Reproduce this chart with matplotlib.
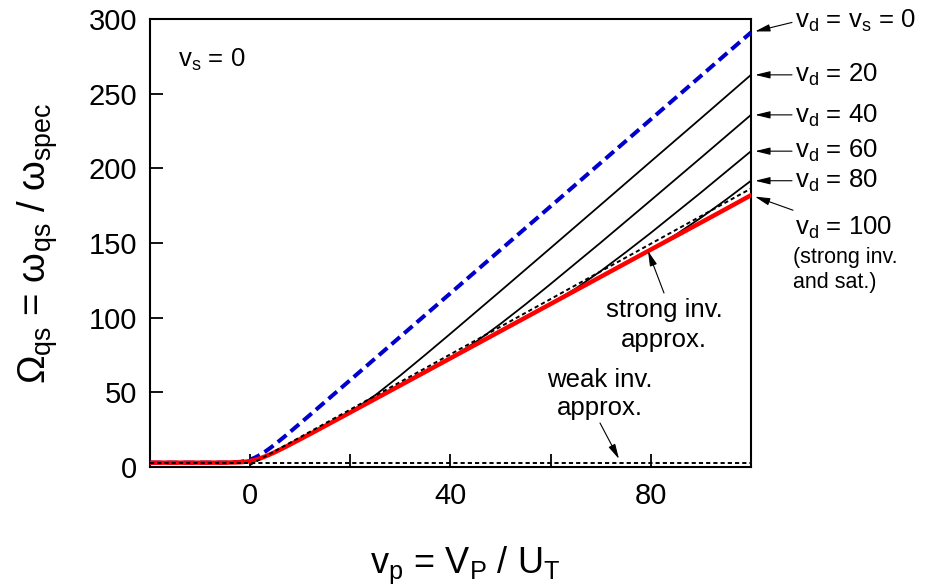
import matplotlib
matplotlib.use('Agg')
import matplotlib.pyplot as plt

plt.rcParams['font.family'] = ['Liberation Sans', 'DejaVu Sans']
plt.rcParams['mathtext.fontset'] = 'custom'
plt.rcParams['mathtext.rm'] = 'Liberation Sans'
plt.rcParams['mathtext.it'] = 'Liberation Sans'
plt.rcParams['mathtext.bf'] = 'Liberation Sans:bold'
plt.rcParams['mathtext.default'] = 'regular'
plt.rcParams['lines.scale_dashes'] = False

# ---------------- data ----------------
vp_main = [-20, -10, -5, -2, -1, 0, 1, 2, 3, 4, 5, 7, 10, 12, 15, 20, 30, 40,
           50, 60, 70, 80, 90, 95, 100]
omega_vd0 = [2.91, 2.91, 2.95, 3.43, 4.01, 4.97, 6.37, 8.18, 10.32, 12.72, 15.29,
             20.75, 29.29, 35.05, 43.75, 58.27, 87.35, 116.4, 145.5, 174.6, 203.7,
             232.8, 261.9, 276.5, 291.0]
omega_vd100 = [2.91, 2.91, 2.93, 3.18, 3.48, 4.00, 4.77, 5.81, 7.06, 8.48, 10.03,
               13.35, 18.6, 22.16, 27.55, 36.58, 54.7, 72.86, 91.03, 109.2, 127.4,
               145.6, 163.7, 172.8, 182.0]

vp_vd20 = [10, 15, 20, 25, 30, 35, 40, 50, 60, 70, 80, 90, 100]
omega_vd20 = [18.6, 27.55, 36.86, 48.15, 61.36, 75.22, 89.33, 117.9, 146.7, 175.6,
              204.6, 233.5, 262.6]
vp_vd40 = [30, 35, 40, 45, 50, 55, 60, 70, 80, 90, 100]
omega_vd40 = [54.7, 63.78, 73.01, 83.6, 95.9, 109.0, 122.6, 150.3, 178.6, 207.1, 235.8]
vp_vd60 = [50, 55, 60, 65, 70, 75, 80, 90, 100]
omega_vd60 = [91.03, 100.1, 109.3, 119.5, 131.2, 143.8, 156.8, 183.8, 211.5]
vp_vd80 = [70, 75, 80, 85, 90, 95, 100]
omega_vd80 = [127.4, 136.5, 145.6, 155.6, 166.9, 179.0, 191.7]

vp_strong = [0, 20, 40, 60, 80, 100]
omega_strong = [1.5, 38.5, 75.5, 112.5, 149.5, 186.5]
vp_weak = [-20, 100]
omega_weak = [3.0, 3.0]

x_ticks = [0, 40, 80]
x_minor = [20, 60]
y_ticks = [0, 50, 100, 150, 200, 250, 300]

# ---------------- figure ----------------
W, H = 928, 588
fig = plt.figure(figsize=(W / 100, H / 100), dpi=100)
ax = fig.add_axes([150 / W, 1 - 467 / H, 601 / W, 448 / H])


def fp(x, y):
    return (x / W, 1 - y / H)


for vv, oo in [(vp_vd20, omega_vd20), (vp_vd40, omega_vd40),
               (vp_vd60, omega_vd60), (vp_vd80, omega_vd80)]:
    ax.plot(vv, oo, color='black', lw=1.3, zorder=2, solid_capstyle='butt')
ax.plot(vp_main, omega_vd0, color='#0000cc', lw=2.9, dashes=(8, 4), zorder=3)
ax.plot(vp_main, omega_vd100, color='#ff0000', lw=3.2, zorder=4)
ax.plot(vp_strong, omega_strong, color='black', lw=1.4, dashes=(3.0, 2.2), zorder=5)
ax.plot(vp_weak, omega_weak, color='black', lw=1.4, dashes=(3.0, 2.2), zorder=5)

ax.set_xlim(-20, 100)
ax.set_ylim(0, 300)
ax.set_xticks(x_ticks)
ax.set_xticks(x_minor, minor=True)
ax.set_yticks(y_ticks)
ax.tick_params(which='both', direction='in', length=9.5, width=1.3,
               top=False, right=False)
ax.tick_params(axis='both', labelsize=21)
ax.tick_params(axis='y', pad=9)
ax.tick_params(axis='x', pad=11)
for s in ax.spines.values():
    s.set_linewidth(1.5)

# axis labels
fig.text(*fp(465, 573), 'v$_p$ = V$_P$ / U$_T$', fontsize=26, ha='center',
         va='baseline')
fig.text(*fp(38, 243), 'Ω$_{qs}$ = ω$_{qs}$ / ω$_{spec}$', fontsize=27.5,
         rotation=90, ha='center', va='center')

# inside label
fig.text(*fp(178, 67), 'v$_s$ = 0', fontsize=18.5, va='baseline')

# right-hand labels
lab_fs = 18.5
fig.text(*fp(795, 28), 'v$_d$ = v$_s$ = 0', fontsize=lab_fs, va='baseline')
fig.text(*fp(795, 82), 'v$_d$ = 20', fontsize=lab_fs, va='baseline')
fig.text(*fp(795, 123), 'v$_d$ = 40', fontsize=lab_fs, va='baseline')
fig.text(*fp(795, 158), 'v$_d$ = 60', fontsize=lab_fs, va='baseline')
fig.text(*fp(795, 188), 'v$_d$ = 80', fontsize=lab_fs, va='baseline')
fig.text(*fp(795, 235), 'v$_d$ = 100', fontsize=lab_fs, va='baseline')
fig.text(*fp(793, 263), '(strong inv.', fontsize=15.5, va='baseline')
fig.text(*fp(793, 288), 'and sat.)', fontsize=15.5, va='baseline')

fig.text(*fp(664, 317), 'strong inv.', fontsize=18.5, ha='center', va='baseline')
fig.text(*fp(664, 347), 'approx.', fontsize=18.5, ha='center', va='baseline')
fig.text(*fp(600, 387), 'weak inv.', fontsize=18.5, ha='center', va='baseline')
fig.text(*fp(600, 415), 'approx.', fontsize=18.5, ha='center', va='baseline')

arrow = dict(arrowstyle='-|>,head_length=0.9,head_width=0.22', color='black',
             lw=0.8, mutation_scale=10, shrinkA=0, shrinkB=3)

# arrows pointing to curve ends
ends = [(vp_main[-1], omega_vd0[-1], (41, 10)),
        (vp_vd20[-1], omega_vd20[-1], (41, 0)),
        (vp_vd40[-1], omega_vd40[-1], (41, 0)),
        (vp_vd60[-1], omega_vd60[-1], (41, 0)),
        (vp_vd80[-1], omega_vd80[-1], (41, 0)),
        (vp_main[-1], omega_vd100[-1], (42, -15))]
for xv, yv, off in ends:
    ax.annotate('', xy=(xv, yv), xycoords='data', xytext=off,
                textcoords='offset pixels', arrowprops=arrow,
                annotation_clip=False)

arrow2 = dict(arrowstyle='-|>,head_length=0.9,head_width=0.22', color='black',
              lw=0.8, mutation_scale=10, shrinkA=0, shrinkB=0)
fig.add_artist(matplotlib.patches.FancyArrowPatch(
    fp(664, 293), fp(648, 251), transform=fig.transFigure, **arrow2))
fig.add_artist(matplotlib.patches.FancyArrowPatch(
    fp(600, 423), fp(619, 459), transform=fig.transFigure, **arrow2))

fig.savefig('out.png', dpi=100)
